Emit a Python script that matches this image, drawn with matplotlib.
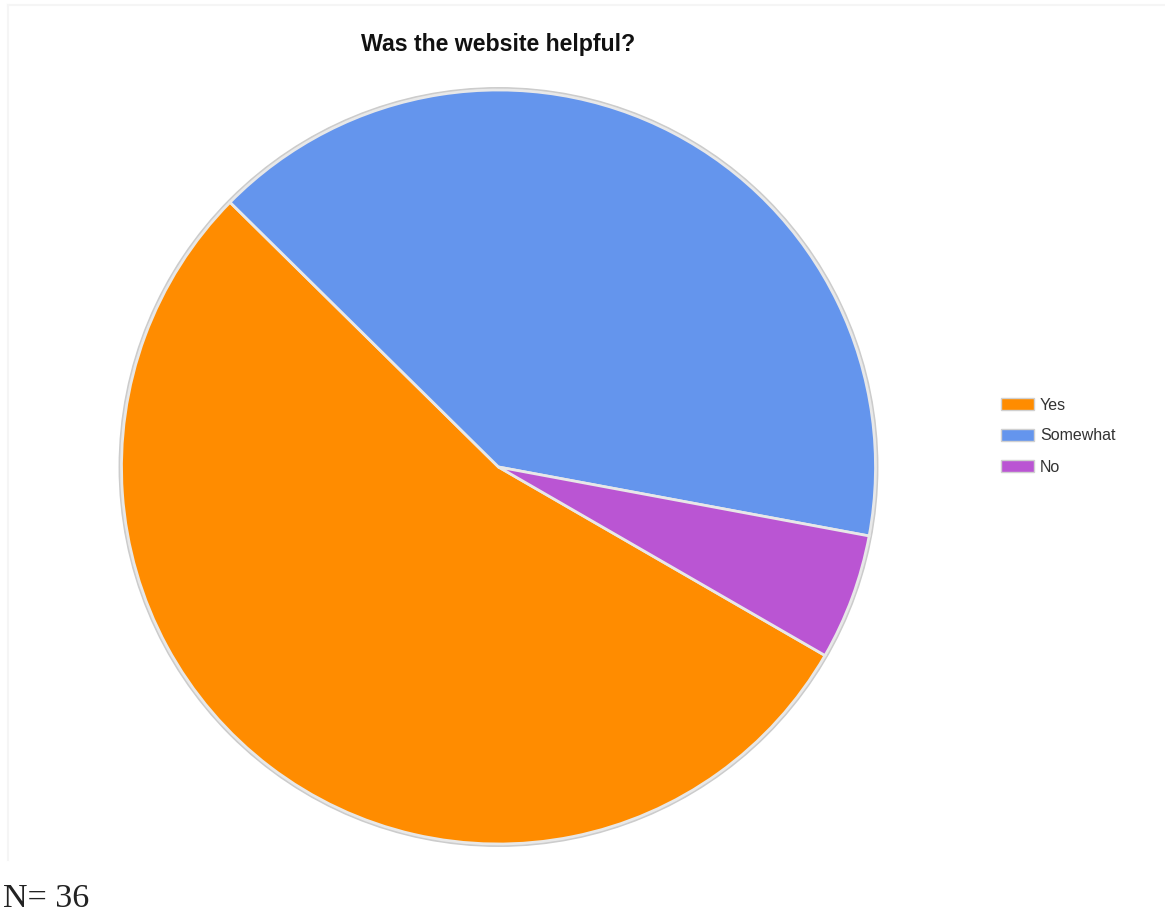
import matplotlib
matplotlib.use("Agg")
import matplotlib.pyplot as plt
from matplotlib.patches import Rectangle
from matplotlib.lines import Line2D

# Survey responses
categories = ["Yes", "Somewhat", "No"]
counts = [20, 15, 2]
colors = ["#FF8C00", "#6495ED", "#BA55D3"]
title = "Was the website helpful?"
footnote = "N= 36"

W, H = 1165, 917
fig = plt.figure(figsize=(W / 100, H / 100), dpi=100)

# faint frame around the chart image
fig.add_artist(Line2D([8 / W, 8 / W], [1 - 5 / H, 1 - 860 / H], transform=fig.transFigure,
                      color="#f5f5f5", lw=1.5))
fig.add_artist(Line2D([8 / W, 1.0], [1 - 5 / H, 1 - 5 / H], transform=fig.transFigure,
                      color="#f5f5f5", lw=1.5))

# pie axes: centre (498.5, 467) px, radius 377 px, with a small margin
cx, cy, r = 498.5, 467, 377
m = 1.03
ax = fig.add_axes([(cx - r * m) / W, 1 - (cy + r * m) / H, 2 * r * m / W, 2 * r * m / H])
shadow = plt.Circle((0, 0), 1.006, color="#cccccc", zorder=0)
ax.add_patch(shadow)
ax.pie(counts, colors=colors, startangle=-30, counterclock=False, radius=1.0,
       wedgeprops=dict(edgecolor="#e8e8e8", linewidth=2.0))
ax.set_xlim(-m, m)
ax.set_ylim(-m, m)
ax.set_aspect("equal")
ax.axis("off")

fig.text(498 / W, 1 - 45 / H, title, ha="center", va="center",
         fontsize=16.7, fontweight="bold", family="Liberation Sans", color="#111111")

# legend
for i, (lab, col) in enumerate(zip(categories, colors)):
    y = 404 + 31 * i
    fig.add_artist(Rectangle((1001 / W, 1 - (y + 6) / H), 33 / W, 12 / H,
                             transform=fig.transFigure, facecolor=col,
                             edgecolor="#d0d0d0", lw=1))
    fig.text(1040 / W, 1 - (y + 1) / H, lab, ha="left", va="center", fontsize=11.5,
             family="Liberation Sans", color="#333333")

fig.text(3 / W, 1 - 899 / H, footnote, ha="left", va="center", fontsize=24.5,
         family="Liberation Serif", color="#222222")

fig.savefig("out.png", dpi=100, facecolor="white")
